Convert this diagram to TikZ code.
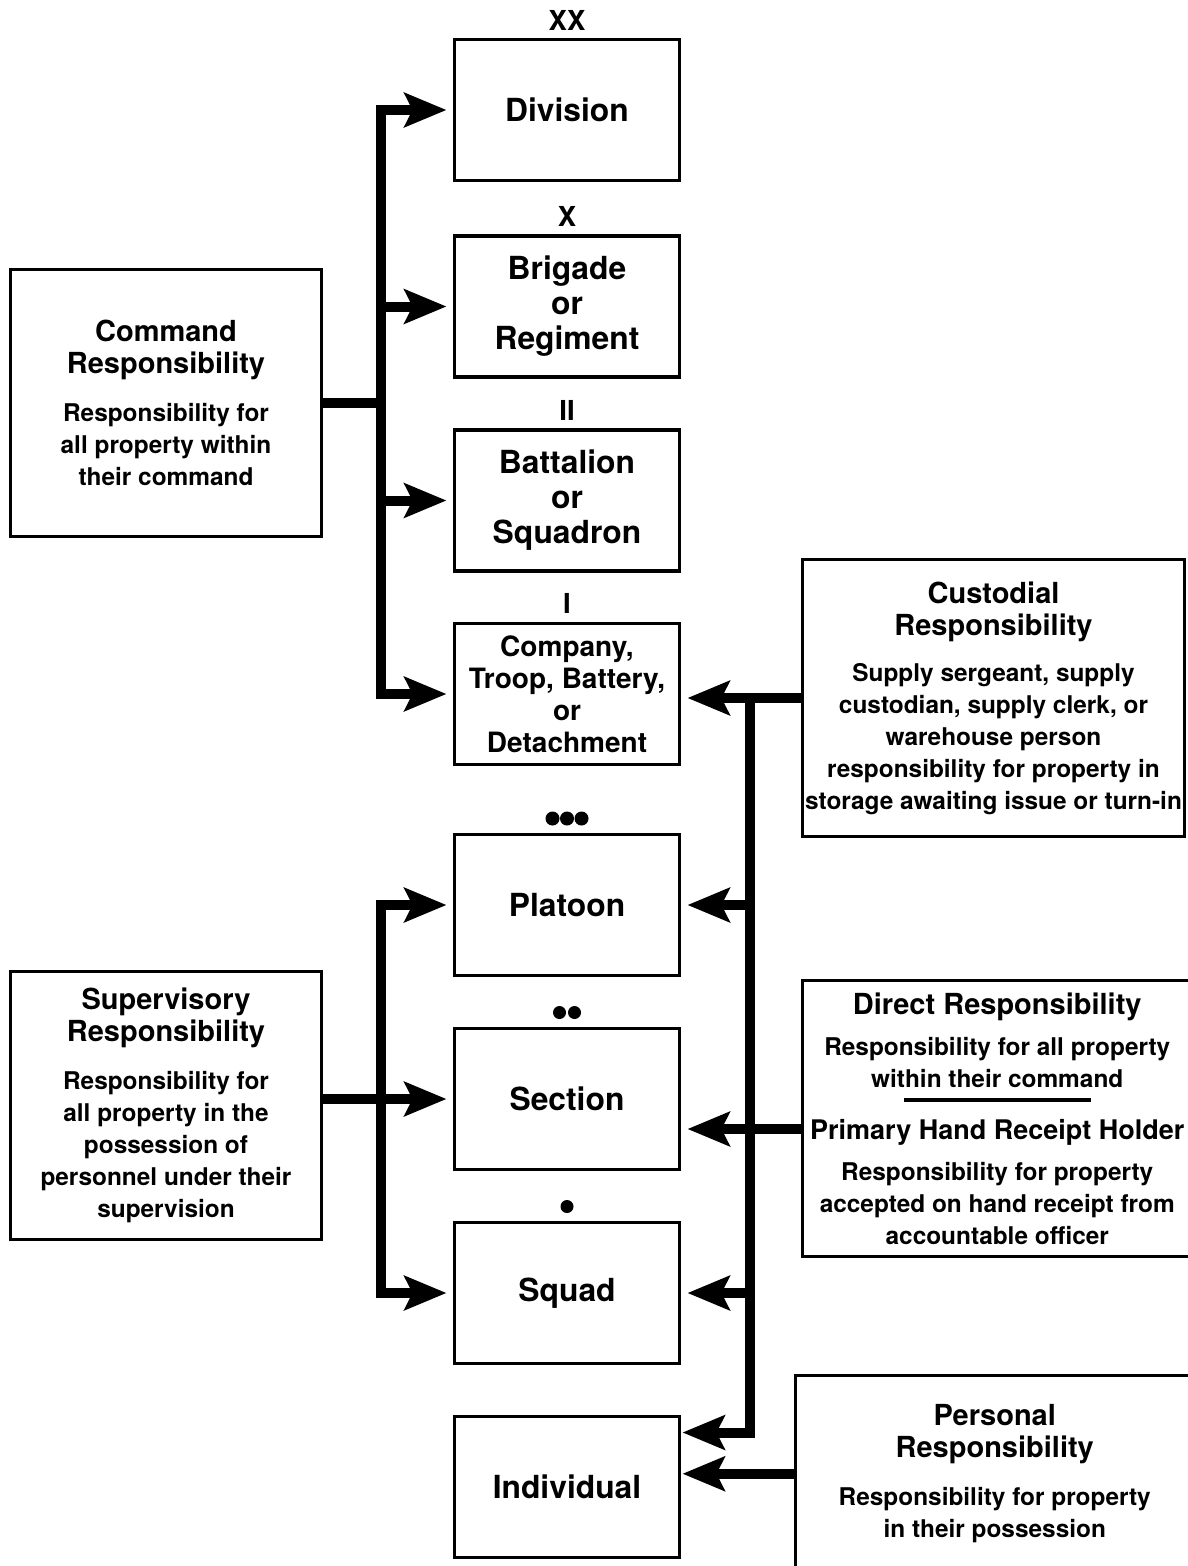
\documentclass[tikz,border=0pt]{standalone}
\usepackage{fontspec}
\setmainfont{TeX Gyre Heros}
\usetikzlibrary{arrows.meta}

\newcommand\resptitle[1]{{\fontsize{29}{32}\selectfont #1}}

\tikzset{
  unitbox/.style={draw, line width=3.5pt, minimum width=225pt, minimum height=141pt,
    inner sep=0pt, outer sep=0pt, align=center,
    font=\bfseries\fontsize{31.8}{35}\selectfont},
  respbox/.style={draw, line width=3.5pt, inner sep=0pt, outer sep=0pt, align=center,
    font=\bfseries\fontsize{24.4}{32}\selectfont},
  lvl/.style={font=\bfseries\fontsize{27.5}{27.5}\selectfont, inner sep=0pt, anchor=base},
  conn/.style={line width=10pt},
  arr/.style={conn, ->, shorten >=8pt}
}

\begin{document}
\begin{tikzpicture}[x=1pt,y=-1pt,>={Stealth[length=42pt,width=34pt,inset=8pt]}]
  \useasboundingbox (0,0) rectangle (1188,1566);

  % unit levels
  \node [unitbox] (div) at (567,110) {Division};
  \node [unitbox] (brig) at (567,306.5) {Brigade\\or\\Regiment};
  \node [unitbox] (bn) at (567,500.5) {Battalion\\or\\Squadron};
  \node [unitbox, font=\bfseries\fontsize{28}{32}\selectfont] (comp) at (567,694)
    {Company,\\Troop, Battery,\\or\\Detachment};
  \node [unitbox] (plat) at (567,905) {Platoon};
  \node [unitbox] (sec) at (567,1099) {Section};
  \node [unitbox] (squad) at (567,1293) {Squad};
  \node [unitbox] (indiv) at (567,1487) {Individual};

  % echelon marks
  \node [lvl] (divmark) at ([yshift=9pt]div.north) {XX};
  \node [lvl] (brigmark) at ([yshift=10pt]brig.north) {X};
  \node [lvl] (bnmark) at ([yshift=10pt]bn.north) {II};
  \node [lvl] (compmark) at ([yshift=10pt]comp.north) {I};
  \foreach \dx in {-14.5,0,14.5}
    \fill ([shift={(\dx,-16)}]plat.north) circle (7pt);
  \foreach \dx in {-7.5,7.5}
    \fill ([shift={(\dx,-16)}]sec.north) circle (6.5pt);
  \fill ([shift={(0,-16)}]squad.north) circle (6.5pt);

  % kinds of responsibility
  \node [respbox, minimum width=311pt, minimum height=267pt] (cmd) at (166,403)
    {\resptitle{Command}\\\resptitle{Responsibility}\\[16pt]
     Responsibility for\\all property within\\their command};
  \node [respbox, minimum width=311pt, minimum height=268pt] (sup) at (166,1105.5)
    {\resptitle{Supervisory}\\\resptitle{Responsibility}\\[16pt]
     Responsibility for\\all property in the\\possession of\\personnel under their\\supervision};
  \node [respbox, minimum width=382pt, minimum height=277pt] (cust) at (993.5,698)
    {\resptitle{Custodial}\\\resptitle{Responsibility}\\[14pt]
     Supply sergeant, supply\\custodian, supply clerk, or\\warehouse person\\
     responsibility for property in\\storage awaiting issue or turn-in};
  \node [respbox, minimum width=389.5pt, minimum height=276pt] (dir) at (997.25,1118.5)
    {\resptitle{Direct Responsibility}\\[9pt]
     Responsibility for all property\\within their command\\
     \rule[17pt]{187pt}{4pt}\\[-12pt]
     {\fontsize{27}{32}\selectfont Primary Hand Receipt Holder}\\[9pt]
     Responsibility for property\\accepted on hand receipt from\\accountable officer};
  \node [respbox, minimum width=398.5pt, minimum height=196.5pt] (pers) at (994.75,1473.75)
    {\resptitle{Personal}\\\resptitle{Responsibility}\\[16pt]
     Responsibility for property\\in their possession};

  % left side
  \coordinate (ljoin) at (381,403);
  \coordinate (ljoin2) at (381,1099);
  \draw [conn] (cmd.east) -- (ljoin);
  \draw [arr,<->,shorten <=8pt] (div.west) -| (ljoin) |- (comp.west);
  \draw [arr] (ljoin |- brig.west) -- (brig.west);
  \draw [arr] (ljoin |- bn.west) -- (bn.west);
  \draw [arr,<->,shorten <=8pt] (plat.west) -| (ljoin2) |- (squad.west);
  \draw [arr] (sup.east |- sec.west) -- (sec.west);

  % right side
  \coordinate (rjoin) at (750,698);
  \draw [arr] (cust.west) -- (cust.west -| comp.east);
  \draw [arr,shorten >=3pt] (cust.west -| rjoin) |- ([yshift=-16pt]indiv.north east);
  \draw [arr] (rjoin |- plat.east) -- (plat.east);
  \draw [arr] (rjoin |- squad.east) -- (squad.east);
  \draw [arr] ([yshift=-10.5pt]dir.west) -- ([yshift=-10.5pt]dir.west -| sec.east);
  \draw [arr,shorten >=3pt] (pers.west) -- (pers.west -| indiv.east);
\end{tikzpicture}
\end{document}
